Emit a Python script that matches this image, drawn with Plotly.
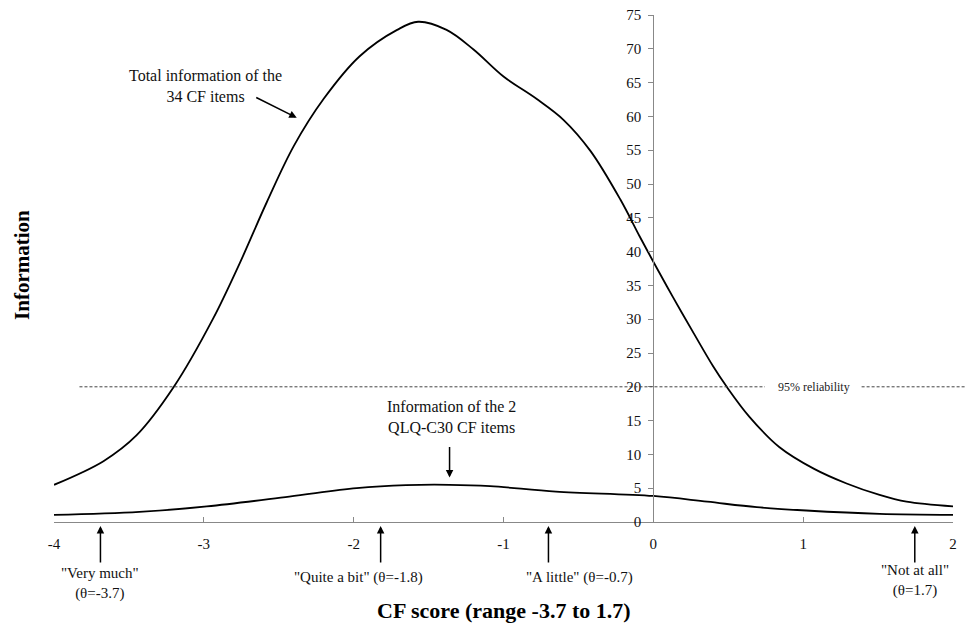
import plotly.graph_objects as go

# Data
theta_total = [-4.0, -3.67, -3.45, -3.2, -2.94, -2.76, -2.58, -2.4, -2.2, -1.96, -1.71,
               -1.57, -1.38, -1.2, -1.0, -0.78, -0.6, -0.42, -0.22, -0.09, 0.0, 0.13,
               0.27, 0.40, 0.49, 0.64, 0.84, 1.07, 1.29, 1.51, 1.69, 2.0]
info_total = [5.5, 9.0, 12.8, 20.0, 30.0, 38.3, 47.3, 55.6, 62.6, 68.9, 72.8,
              74.0, 72.8, 69.9, 65.9, 62.6, 59.5, 54.9, 47.7, 42.2, 38.5, 33.3,
              27.9, 23.0, 20.0, 15.6, 11.1, 7.9, 5.7, 4.0, 3.0, 2.3]

theta_qlq = [-4.0, -3.43, -2.98, -2.43, -1.98, -1.65, -1.36, -1.09, -0.65, 0.0,
             0.36, 0.69, 1.02, 1.51, 2.0]
info_qlq = [1.05, 1.5, 2.3, 3.75, 5.0, 5.45, 5.5, 5.3, 4.5, 3.85,
            3.0, 2.2, 1.7, 1.2, 1.05]

x_ticks = [-4, -3, -2, -1, 0, 1, 2]
y_ticks = list(range(0, 80, 5))
reliability_level = 20

response_labels = ['"Very much"<br>(θ=-3.7)', '"Quite a bit" (θ=-1.8)',
                   '"A little" (θ=-0.7)', '"Not at all"<br>(θ=1.7)']

FONT = "Liberation Serif"
X_MIN, X_MAX, Y_MAX = -4, 2, 75

fig = go.Figure()
fig.add_trace(go.Scatter(x=theta_total, y=info_total, mode="lines",
                         line=dict(color="black", width=1.8, shape="spline", smoothing=1.0),
                         showlegend=False, hoverinfo="skip"))
fig.add_trace(go.Scatter(x=theta_qlq, y=info_qlq, mode="lines",
                         line=dict(color="black", width=1.8, shape="spline", smoothing=1.0),
                         showlegend=False, hoverinfo="skip"))

# 95% reliability dashed line (broken around its label)
fig.add_shape(type="line", xref="x", yref="paper", x0=-3.83, x1=0.745,
              y0=reliability_level / Y_MAX, y1=reliability_level / Y_MAX,
              line=dict(color="#444", width=1, dash="3px,2px"))
fig.add_shape(type="line", xref="paper", yref="paper", x0=(1.39 - X_MIN) / (X_MAX - X_MIN), x1=1.019,
              y0=reliability_level / Y_MAX, y1=reliability_level / Y_MAX,
              line=dict(color="#444", width=1, dash="3px,2px"))
fig.add_annotation(x=1.07, y=reliability_level, xref="x", yref="y", text="95% reliability",
                   showarrow=False, xanchor="center", yanchor="middle",
                   font=dict(family=FONT, size=12, color="#222"))

# Curve annotations
fig.add_annotation(x=-2.99, y=64.5, xref="x", yref="y",
                   text="Total information of the<br>34 CF items", showarrow=False,
                   xanchor="center", yanchor="middle",
                   font=dict(family=FONT, size=16, color="#111"))
fig.add_annotation(x=-2.38, y=59.8, xref="x", yref="y", ax=-42, ay=-21, text="",
                   showarrow=True, arrowhead=2, arrowsize=1, arrowwidth=1.5, arrowcolor="black")
fig.add_annotation(x=-1.345, y=15.5, xref="x", yref="y",
                   text="Information of the 2<br>QLQ-C30 CF items", showarrow=False,
                   xanchor="center", yanchor="middle",
                   font=dict(family=FONT, size=16, color="#111"))
fig.add_annotation(x=-1.36, y=6.6, xref="x", yref="y", ax=0, ay=-32, text="",
                   showarrow=True, arrowhead=2, arrowsize=1, arrowwidth=1.5, arrowcolor="black")

# Response category arrows below the axis
arrow_x = [-3.69, -1.82, -0.70, 1.745]
label_x = [-3.69, -1.97, -0.49, 1.745]
label_y = [-0.122, -0.110, -0.110, -0.116]
for ax_, lx, ly, lab in zip(arrow_x, label_x, label_y, response_labels):
    fig.add_annotation(x=ax_, y=-0.008, xref="x", yref="paper", ax=0, ay=38, text="",
                       showarrow=True, arrowhead=2, arrowsize=1, arrowwidth=1.5, arrowcolor="black")
    fig.add_annotation(x=lx, y=ly, xref="x", yref="paper", text=lab, showarrow=False,
                       xanchor="center", yanchor="middle",
                       font=dict(family=FONT, size=15, color="#111"))

# Axis titles
fig.add_annotation(x=0.5, y=-0.1755, xref="paper", yref="paper",
                   text="<b>CF score (range -3.7 to 1.7)</b>", showarrow=False,
                   xanchor="center", yanchor="middle",
                   font=dict(family=FONT, size=22, color="black"))
fig.add_annotation(x=-0.0356, y=0.507, xref="paper", yref="paper", textangle=-90,
                   text="<b>Information</b>", showarrow=False,
                   xanchor="center", yanchor="middle",
                   font=dict(family=FONT, size=21, color="black"))

fig.update_layout(
    width=965, height=621,
    margin=dict(l=46, r=20, t=7, b=107, autoexpand=False),
    paper_bgcolor="white", plot_bgcolor="white",
    xaxis=dict(range=[X_MIN, X_MAX], tickvals=x_ticks, ticktext=[str(v) for v in x_ticks],
               showgrid=False, zeroline=False, showline=True, linecolor="#888", linewidth=1.3,
               ticks="inside", ticklen=5, tickcolor="#888", tickwidth=1.3,
               ticklabelstandoff=8, ticklabeloverflow="allow", automargin=False,
               tickfont=dict(family=FONT, size=15, color="#111"), fixedrange=True),
    yaxis=dict(range=[0, Y_MAX], tickvals=y_ticks, anchor="free",
               position=(0 - X_MIN) / (X_MAX - X_MIN), side="left",
               showgrid=False, zeroline=False, showline=True, linecolor="#888", linewidth=1.3,
               ticks="outside", ticklen=5, tickcolor="#888", tickwidth=1.3,
               ticklabelstandoff=4, ticklabeloverflow="allow", automargin=False,
               tickfont=dict(family=FONT, size=15, color="#111"), fixedrange=True),
)

fig.write_html("out.html")
